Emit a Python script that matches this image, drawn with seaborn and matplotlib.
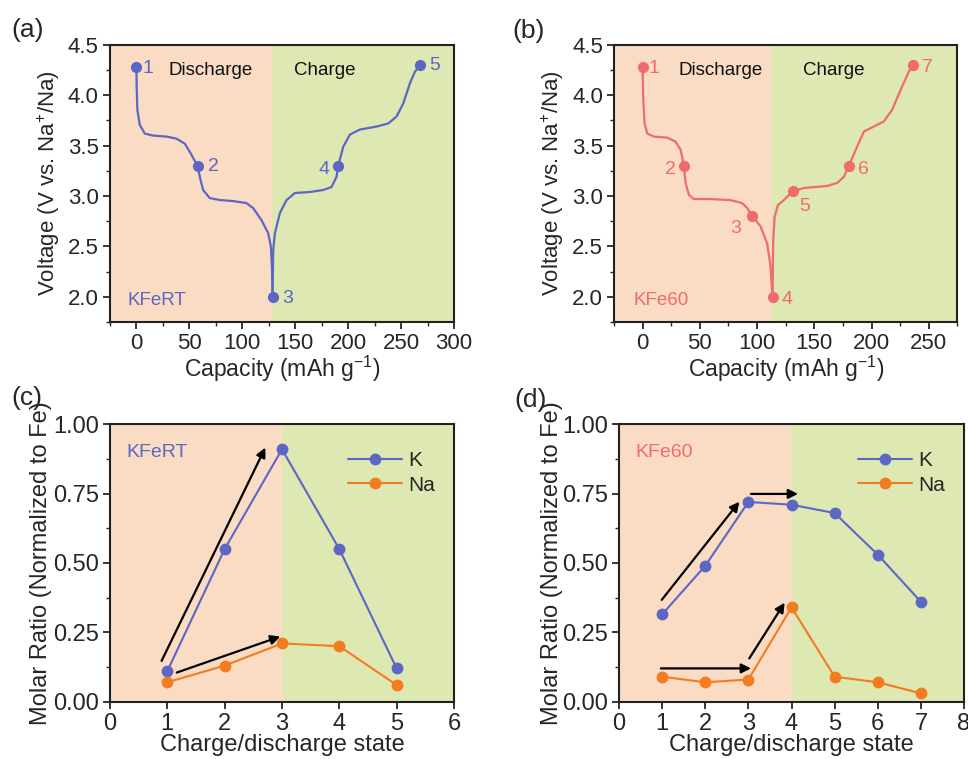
import numpy as np
import pandas as pd
import matplotlib
matplotlib.use("Agg")
import matplotlib.pyplot as plt
import seaborn as sns

# ---------------- data ----------------
# Panel (a) KFeRT voltage profile
a_dis_cap = [0, 0.2, 0.9, 3.2, 7.9, 15.8, 28.4, 37.8, 45.7, 52.0, 57.7, 59.9, 63.0, 69.3, 78.8,
             91.4, 104.0, 110.3, 118.2, 124.5, 127.0, 128.0, 128.6]
a_dis_v = [4.275, 4.09, 3.855, 3.705, 3.62, 3.60, 3.59, 3.57, 3.52, 3.41, 3.30, 3.19, 3.06, 2.98, 2.96,
           2.95, 2.93, 2.88, 2.76, 2.63, 2.50, 2.30, 2.00]
a_chg_cap = [128.6, 129.2, 130.8, 135.5, 141.8, 149.7, 163.9, 176.5, 184.3, 189.0, 190.6, 195.4,
             201.7, 211.1, 226.9, 237.9, 245.8, 252.1, 258.4, 263.1, 267.8]
a_chg_v = [2.00, 2.46, 2.63, 2.83, 2.96, 3.03, 3.04, 3.06, 3.09, 3.19, 3.30, 3.49,
           3.61, 3.66, 3.69, 3.72, 3.79, 3.92, 4.12, 4.235, 4.295]
a_pt_cap = [0, 57.7, 128.6, 190.6, 267.8]
a_pt_v = [4.28, 3.30, 2.00, 3.30, 4.30]
a_pt_lbl = ["1", "2", "3", "4", "5"]
a_lbl_cap = [11, 73, 143, 177, 282]
a_lbl_v = [4.27, 3.29, 1.98, 3.26, 4.30]

# Panel (b) KFe60 voltage profile
b_dis_cap = [0, 0.6, 1.7, 4.1, 9.9, 21.5, 28.8, 33.2, 36.1, 37.5, 40.5, 44.8, 59.4, 76.8, 87.0,
             91.4, 95.8, 103.0, 108.8, 111.8, 113.5]
b_dis_v = [4.275, 3.95, 3.72, 3.62, 3.59, 3.58, 3.54, 3.46, 3.30, 3.13, 3.01, 2.97, 2.97, 2.96, 2.93,
           2.88, 2.80, 2.70, 2.53, 2.30, 2.00]
b_chg_cap = [113.5, 114.1, 115.3, 118.2, 123.4, 131.5, 140.9, 161.2, 170.0, 175.8, 180.2, 187.4,
             193.3, 202.0, 210.7, 218.0, 225.3, 232.6, 236.0]
b_chg_v = [2.00, 2.56, 2.79, 2.91, 2.96, 3.05, 3.08, 3.10, 3.13, 3.19, 3.30, 3.49,
           3.64, 3.69, 3.74, 3.855, 4.05, 4.235, 4.295]
b_pt_cap = [0, 36.1, 95.8, 113.5, 131.5, 180.2, 236.0]
b_pt_v = [4.28, 3.30, 2.80, 2.00, 3.05, 3.30, 4.30]
b_pt_lbl = ["1", "2", "3", "4", "5", "6", "7"]
b_lbl_cap = [10, 24, 81, 126, 142, 193, 249]
b_lbl_v = [4.27, 3.26, 2.68, 1.97, 2.90, 3.26, 4.28]

# Panel (c) KFeRT molar ratios
c_state = [1, 2, 3, 4, 5]
c_K = [0.11, 0.55, 0.91, 0.55, 0.12]
c_Na = [0.07, 0.13, 0.21, 0.20, 0.06]

# Panel (d) KFe60 molar ratios
d_state = [1, 2, 3, 4, 5, 6, 7]
d_K = [0.315, 0.49, 0.72, 0.71, 0.68, 0.53, 0.36]
d_Na = [0.09, 0.07, 0.08, 0.34, 0.09, 0.07, 0.03]

# ---------------- style ----------------
sns.set_style("ticks")
plt.rcParams["font.family"] = ["Liberation Sans", "DejaVu Sans"]
plt.rcParams["mathtext.fontset"] = "custom"
plt.rcParams["mathtext.rm"] = "Liberation Sans"
plt.rcParams["mathtext.it"] = "Liberation Sans:italic"
plt.rcParams["axes.linewidth"] = 1.5

PEACH = "#FADBC4"
GREEN = "#DDE8B3"
BLUE = "#5C67C4"
PINK = "#F06B6E"
ORANGE = "#F47C20"

fig = plt.figure(figsize=(9.68, 7.59), dpi=100)
ax_a = fig.add_axes([0.1136, 0.5758, 0.3554, 0.365])
ax_b = fig.add_axes([0.6343, 0.5758, 0.3547, 0.365])
ax_c = fig.add_axes([0.1136, 0.0755, 0.3554, 0.3655])
ax_d = fig.add_axes([0.6395, 0.0755, 0.3564, 0.3655])


def style_axis(ax, fs):
    ax.tick_params(axis="both", which="major", direction="out", length=5, width=1.3,
                   labelsize=fs, top=False, right=False, pad=3)
    ax.tick_params(axis="both", which="minor", direction="out", length=3, width=1.0,
                   top=False, right=False)
    for s in ax.spines.values():
        s.set_visible(True)
        s.set_linewidth(1.5)
        s.set_color("#222222")
        s.set_zorder(5)


def voltage_panel(ax, dis_c, dis_v, chg_c, chg_v, pc, pv, lbls, lc, lv, color,
                  split, xmax, xticks, name, name_x, dis_x, chg_x):
    ax.set_xlim(-25, xmax)
    ax.set_ylim(1.75, 4.5)
    ax.axvspan(-25, split, color=PEACH, zorder=0, lw=0)
    ax.axvspan(split, xmax, color=GREEN, zorder=0, lw=0)
    df1 = pd.DataFrame({"cap": dis_c, "v": dis_v})
    df2 = pd.DataFrame({"cap": chg_c, "v": chg_v})
    sns.lineplot(data=df1, x="cap", y="v", sort=False, color=color, lw=1.6, ax=ax, zorder=3)
    sns.lineplot(data=df2, x="cap", y="v", sort=False, color=color, lw=1.6, ax=ax, zorder=3)
    dfp = pd.DataFrame({"cap": pc, "v": pv})
    sns.scatterplot(data=dfp, x="cap", y="v", color=color, s=65, edgecolor=color,
                    linewidth=0, ax=ax, zorder=4)
    for t, x, y in zip(lbls, lc, lv):
        ax.text(x, y, t, color=color, fontsize=14, ha="center", va="center")
    ax.text(dis_x, 4.25, "Discharge", fontsize=13.5, ha="center", va="center", color="#111111")
    ax.text(chg_x, 4.25, "Charge", fontsize=13.5, ha="center", va="center", color="#111111")
    ax.text(name_x, 1.96, name, fontsize=13.5, ha="left", va="center", color=color)
    ax.set_xticks(xticks)
    ax.set_xticks(np.arange(-25, xmax + 0.1, 25), minor=True)
    ax.set_yticks([2.0, 2.5, 3.0, 3.5, 4.0, 4.5])
    ax.set_yticks(np.arange(1.75, 4.51, 0.25), minor=True)
    ax.set_yticklabels(["2.0", "2.5", "3.0", "3.5", "4.0", "4.5"])
    ax.set_xlabel("Capacity (mAh g$^{-1}$)", fontsize=16.5)
    ax.set_ylabel("Voltage (V vs. Na$^{+}$/Na)", fontsize=16)
    ax.xaxis.set_label_coords(0.5, -0.115)
    ax.yaxis.set_label_coords(-0.14, 0.5)
    style_axis(ax, 16)


voltage_panel(ax_a, a_dis_cap, a_dis_v, a_chg_cap, a_chg_v, a_pt_cap, a_pt_v, a_pt_lbl,
              a_lbl_cap, a_lbl_v, BLUE, 128.5, 300, [0, 50, 100, 150, 200, 250, 300],
              "KFeRT", -8, 70, 178)
voltage_panel(ax_b, b_dis_cap, b_dis_v, b_chg_cap, b_chg_v, b_pt_cap, b_pt_v, b_pt_lbl,
              b_lbl_cap, b_lbl_v, PINK, 113.2, 275, [0, 50, 100, 150, 200, 250],
              "KFe60", -8, 68, 167)


def ratio_panel(ax, states, K, Na, split, xmax, name, name_color, arrows, ylab_x):
    ax.set_xlim(0, xmax)
    ax.set_ylim(0, 1.0)
    ax.axvspan(0, split, color=PEACH, zorder=0, lw=0)
    ax.axvspan(split, xmax, color=GREEN, zorder=0, lw=0)
    df = pd.DataFrame({"state": states * 2, "ratio": K + Na,
                       "el": ["K"] * len(states) + ["Na"] * len(states)})
    sns.lineplot(data=df, x="state", y="ratio", hue="el", palette={"K": BLUE, "Na": ORANGE},
                 marker="o", markersize=8.5, markeredgewidth=0, lw=1.5, ax=ax, zorder=3)
    ax.legend(title=None, loc="upper right", frameon=False, fontsize=15,
              handlelength=2.6, handletextpad=0.3, labelspacing=0.25,
              bbox_to_anchor=(1.0, 0.97))
    for (x0, y0, x1, y1) in arrows:
        ax.annotate("", xy=(x1, y1), xytext=(x0, y0),
                    arrowprops=dict(arrowstyle="-|>", color="black", lw=1.6,
                                    mutation_scale=14, shrinkA=0, shrinkB=0), zorder=4)
    ax.text(0.28 if xmax == 6 else 0.37, 0.9, name, color=name_color, fontsize=14,
            ha="left", va="center")
    ax.set_xticks(range(0, xmax + 1))
    ax.set_yticks([0, 0.25, 0.5, 0.75, 1.0])
    ax.set_yticks(np.arange(0, 1.01, 0.125), minor=True)
    ax.set_yticklabels(["0.00", "0.25", "0.50", "0.75", "1.00"])
    ax.set_xlabel("Charge/discharge state", fontsize=17)
    ax.set_ylabel("Molar Ratio (Normalized to Fe)", fontsize=17)
    ax.xaxis.set_label_coords(0.5, -0.115)
    ax.yaxis.set_label_coords(ylab_x, 0.5)
    style_axis(ax, 17)


ratio_panel(ax_c, c_state, c_K, c_Na, 3, 6, "KFeRT", BLUE,
            [(0.90, 0.147, 2.71, 0.916), (1.165, 0.105, 2.97, 0.235)], -0.168)
ratio_panel(ax_d, d_state, d_K, d_Na, 4, 8, "KFe60", PINK,
            [(0.99, 0.367, 2.79, 0.721), (3.06, 0.749, 4.15, 0.749),
             (0.97, 0.12, 3.06, 0.12), (3.02, 0.156, 3.84, 0.357)], -0.162)

# panel letters
fig.text(28 / 968, 1 - 30 / 759, "(a)", fontsize=19, ha="center", va="center")
fig.text(529 / 968, 1 - 31 / 759, "(b)", fontsize=19, ha="center", va="center")
fig.text(27 / 968, 1 - 398 / 759, "(c)", fontsize=19, ha="center", va="center")
fig.text(531 / 968, 1 - 400 / 759, "(d)", fontsize=19, ha="center", va="center")

fig.savefig("out.png", dpi=100)
